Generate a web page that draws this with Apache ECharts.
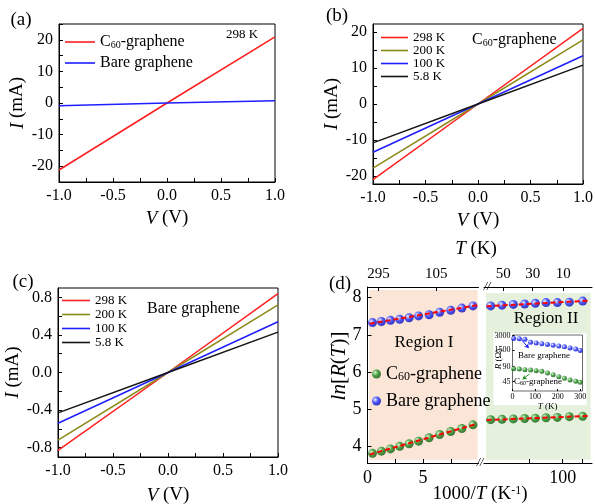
<!DOCTYPE html>
<html><head><meta charset="utf-8">
<script src="https://cdn.jsdelivr.net/npm/echarts@6/dist/echarts.min.js"></script>
<style>html,body{margin:0;padding:0;background:#fff}#c{width:595px;height:504px}</style>
</head><body><div id="c"></div>
<script>
// ================= DATA =================
// I-V sweeps (V in volts)
const ivVoltage = [-1, 0, 1];
// (a) 298 K, current in mA
const aC60 = [-21.2, 0, 20.9];
const aBare = [-0.9, 0, 0.7];
// (b) C60-graphene, mA
const b298 = [-21, 0, 21];
const b200 = [-17.8, 0, 17.8];
const b100 = [-13.4, 0, 13.4];
const b5_8 = [-10.8, 0, 10.8];
// (c) Bare graphene, mA
const c298 = [-0.83, 0, 0.84];
const c200 = [-0.72, 0, 0.72];
const c100 = [-0.54, 0, 0.54];
const c5_8 = [-0.43, 0, 0.43];
const tempLabels = ['298 K', '200 K', '100 K', '5.8 K'];
// (d) ln[R(T)] vs 1000/T, region I
const dInvT1 = [0.45, 1.25, 2.07, 2.9, 3.75, 4.6, 5.55, 6.5, 7.5, 8.5, 9.5];
const dC60_1 = [3.80, 3.86, 3.92, 3.99, 4.06, 4.13, 4.22, 4.31, 4.39, 4.47, 4.57];
const dBare_1 = [7.33, 7.36, 7.39, 7.42, 7.46, 7.51, 7.54, 7.61, 7.66, 7.72, 7.78];
// region II
const dInvT2 = [46, 54.5, 63, 71.5, 79.5, 87.5, 96, 105, 115];
const dC60_2 = [4.71, 4.72, 4.73, 4.74, 4.75, 4.76, 4.77, 4.79, 4.80];
const dBare_2 = [7.78, 7.80, 7.82, 7.83, 7.85, 7.87, 7.87, 7.88, 7.91];
// linear fits (end points)
const fitX1 = [0.2, 9.9];
const fitC60_1 = [3.77, 4.60];
const fitBare_1 = [7.30, 7.80];
const fitX2 = [43, 119];
const fitC60_2 = [4.70, 4.81];
const fitBare_2 = [7.77, 7.92];
// top T(K) axis of (d)
const topPos1 = [1.0, 6.2];
const topLbl1 = ['295', '105'];
const topPos2 = [55.5, 77.5, 100.4];
const topLbl2 = ['50', '30', '10'];
// inset R(T)
const insetT = [5, 30, 55, 80, 105, 130, 155, 180, 205, 230, 255, 280, 300];
const insetBareR = [2700, 2680, 2620, 2300, 2230, 2150, 2080, 2000, 1920, 1830, 1720, 1600, 1450];
const insetC60R = [84, 83, 81, 80, 78, 76, 71, 66, 60, 55, 50, 46, 43];
// tick values
const ivXTicks = [-1, -0.75, -0.5, -0.25, 0, 0.25, 0.5, 0.75, 1];
const ivXLabels = [-1, -0.5, 0, 0.5, 1];
const aYTicks = [-25, -20, -15, -10, -5, 0, 5, 10, 15, 20, 25];
const aYLabels = [-20, -10, 0, 10, 20];
const bYTicks = [-20, -15, -10, -5, 0, 5, 10, 15, 20];
const bYLabels = [-20, -10, 0, 10, 20];
const cYTicks = [-0.8, -0.6, -0.4, -0.2, 0, 0.2, 0.4, 0.6, 0.8];
const cYLabels = [-0.8, -0.4, 0, 0.4, 0.8];
const dX1Ticks = [0, 2.5, 5, 7.5];
const dX1Labels = [0, 5];
const dX2Ticks = [75, 100, 115];
const dX2Labels = [100];
const dYTicks = [4, 5, 6, 7, 8];
const iXLabels = [0, 100, 200, 300];
const iY1Labels = [1500, 3000];
const iY2Labels = [45, 90];

// ================= STYLE / LAYOUT =================
const FONT = 'Liberation Serif';
const RED = '#ff1e1e', OLIVE = '#8c8a18', BLUE = '#1e1eff', BLACK = '#151515';
const tempColors = [RED, OLIVE, BLUE, BLACK];
const G = {
  a:  {left: 59, top: 24, width: 216, height: 158},
  b:  {left: 373, top: 24, width: 210, height: 160},
  c:  {left: 58, top: 288, width: 220, height: 169},
  d1: {left: 367.5, top: 287, width: 111, height: 176},
  d2: {left: 484, top: 287, width: 108, height: 176},
  i1: {left: 512.5, top: 335, width: 70, height: 22},
  i2: {left: 512.5, top: 357, width: 70, height: 34}
};
function rich(size) {
  const s = Math.round(size * 0.65);
  return {
    n: {fontFamily: FONT, fontSize: size, color: '#000'},
    i: {fontFamily: FONT, fontSize: size, color: '#000', fontStyle: 'italic'},
    s: {fontFamily: FONT, fontSize: s, color: '#000', verticalAlign: 'bottom'},
    p: {fontFamily: FONT, fontSize: s, color: '#000', verticalAlign: 'top'}
  };
}
const zip = (xs, ys) => xs.map((x, i) => [x, ys[i]]);
const f1 = v => v.toFixed(1);
const fi = v => String(v);

function axis(o) {
  return {
    type: 'value', gridIndex: o.g, min: o.min, max: o.max, position: o.pos,
    show: o.show !== false, z: o.z || 0,
    axisLine: {show: o.line !== false, onZero: false, lineStyle: {color: '#000', width: 1}},
    axisTick: {show: !!o.ticks, inside: true, length: o.tl || 4, lineStyle: {color: '#000', width: 1}, customValues: o.ticks},
    axisLabel: {show: !!o.labels, customValues: o.labels, formatter: o.fmt, margin: o.margin || 6,
      fontFamily: FONT, fontSize: o.fs || 16, color: '#000'},
    splitLine: {show: false},
    name: o.name, nameLocation: 'middle', nameGap: o.nameGap,
    nameTextStyle: {fontFamily: FONT, fontSize: o.nfs || 19, color: '#000', rich: rich(o.nfs || 19)}
  };
}

const xAxis = [
  axis({g: 0, min: -1, max: 1, ticks: ivXTicks, labels: ivXLabels, fmt: f1, name: '{i|V} (V)', nameGap: 27}),
  axis({g: 1, min: -1, max: 1, ticks: ivXTicks, labels: ivXLabels, fmt: f1, name: '{i|V} (V)', nameGap: 27}),
  axis({g: 2, min: -1, max: 1, ticks: ivXTicks, labels: ivXLabels, fmt: f1, name: '{i|V} (V)', nameGap: 29}),
  axis({g: 3, min: 0, max: 10, ticks: dX1Ticks, labels: dX1Labels, fmt: fi, fs: 18}),
  axis({g: 3, min: 0, max: 10, pos: 'top', ticks: topPos1, labels: topPos1, fs: 15, margin: 5,
        fmt: v => topLbl1[topPos1.indexOf(v)]}),
  axis({g: 4, min: 41, max: 122, ticks: dX2Ticks, labels: dX2Labels, fmt: fi, fs: 18}),
  axis({g: 4, min: 41, max: 122, pos: 'top', ticks: topPos2, labels: topPos2, fs: 15, margin: 5,
        fmt: v => topLbl2[topPos2.indexOf(v)]}),
  axis({g: 5, min: 0, max: 310, show: false}),
  axis({g: 6, min: 0, max: 310, line: false, ticks: iXLabels, labels: iXLabels, fmt: fi, fs: 8, tl: 2, margin: 2, z: 3,
        name: '{i|T} (K)', nameGap: 11, nfs: 9})
];
const yAxis = [
  axis({g: 0, min: -25, max: 25, ticks: aYTicks, labels: aYLabels, fmt: fi, name: '{i|I} (mA)', nameGap: 32}),
  axis({g: 1, min: -22.2, max: 22.2, ticks: bYTicks, labels: bYLabels, fmt: fi, name: '{i|I} (mA)', nameGap: 26}),
  axis({g: 2, min: -0.9, max: 0.9, ticks: cYTicks, labels: cYLabels, fmt: f1, name: '{i|I} (mA)', nameGap: 33}),
  axis({g: 3, min: 3.54, max: 8.29, ticks: dYTicks, labels: dYTicks, fmt: fi, fs: 18}),
  axis({g: 4, min: 3.54, max: 8.29, show: false}),
  axis({g: 5, min: 770, max: 3070, line: false, ticks: iY1Labels, labels: iY1Labels, fmt: fi, fs: 8, tl: 2, margin: 2, z: 3}),
  axis({g: 6, min: 17, max: 119, line: false, ticks: iY2Labels, labels: iY2Labels, fmt: fi, fs: 8, tl: 2, margin: 2, z: 3})
];

function ivLine(name, xi, data, color) {
  return {type: 'line', name, xAxisIndex: xi, yAxisIndex: xi, data: zip(ivVoltage, data),
    symbol: 'none', showSymbol: false, lineStyle: {width: 1.5, color}, itemStyle: {color}, z: 2};
}
const ball = (light, mid, dark) => ({type: 'radial', x: 0.35, y: 0.35, r: 0.75,
  colorStops: [{offset: 0, color: light}, {offset: 0.45, color: mid}, {offset: 1, color: dark}]});
const blueBall = ball('#eef3ff', '#2233ff', '#0000a8');
const greenBall = ball('#d8f5d8', '#1f8f1f', '#0a4a0a');
function dots(name, xi, yi, xs, ys, color, size, z) {
  return {type: 'scatter', name, xAxisIndex: xi, yAxisIndex: yi, data: zip(xs, ys),
    symbol: 'circle', symbolSize: size, itemStyle: {color}, z: z || 3};
}
function fit(xi, yi, xs, ys) {
  return {type: 'line', name: 'fit', xAxisIndex: xi, yAxisIndex: yi, data: zip(xs, ys), symbol: 'none',
    lineStyle: {color: '#ff0000', width: 2, type: [5, 3]}, z: 5, silent: true};
}
const bSets = [b298, b200, b100, b5_8], cSets = [c298, c200, c100, c5_8];
const series = [
  ivLine('a-C60', 0, aC60, RED),
  ivLine('a-Bare', 0, aBare, BLUE),
  ...bSets.map((d, i) => ivLine('b-' + i, 1, d, tempColors[i])),
  ...cSets.map((d, i) => ivLine('c-' + i, 2, d, tempColors[i])),
  dots('d-C60', 3, 3, dInvT1, dC60_1, greenBall, 9),
  dots('d-Bare', 3, 3, dInvT1, dBare_1, blueBall, 9),
  dots('d-C60', 5, 4, dInvT2, dC60_2, greenBall, 9),
  dots('d-Bare', 5, 4, dInvT2, dBare_2, blueBall, 9),
  fit(3, 3, fitX1, fitC60_1), fit(3, 3, fitX1, fitBare_1),
  fit(5, 4, fitX2, fitC60_2), fit(5, 4, fitX2, fitBare_2),
  Object.assign(dots('i-Bare', 7, 5, insetT, insetBareR, blueBall, 5, 4), {
    markLine: {silent: true, symbol: ['none', 'arrow'], symbolSize: 4, label: {show: false},
      lineStyle: {color: BLUE, width: 1, type: 'solid'}, data: [[{coord: [40, 2560]}, {coord: [72, 1700]}]]}}),
  Object.assign(dots('i-C60', 8, 6, insetT, insetC60R, greenBall, 5, 4), {
    markLine: {silent: true, symbol: ['none', 'arrow'], symbolSize: 4, label: {show: false},
      lineStyle: {color: '#1f8f1f', width: 1, type: 'solid'}, data: [[{coord: [75, 68]}, {coord: [45, 52]}]]}})
];

const disp = {
  'a-C60': '{n|C}{s|60}{n|-graphene}', 'a-Bare': 'Bare graphene',
  'd-C60': '{n|C}{s|60}{n|-graphene}', 'd-Bare': 'Bare graphene'
};
tempLabels.forEach((t, i) => { disp['b-' + i] = t; disp['c-' + i] = t; });
function legend(names, left, top, fs, gap, extra) {
  return Object.assign({data: names, left, top, orient: 'vertical', padding: 0, itemGap: gap,
    selectedMode: false, icon: 'rect', itemWidth: 28, itemHeight: 1.6,
    formatter: n => disp[n],
    textStyle: {fontFamily: FONT, fontSize: fs, color: '#000', rich: rich(fs)}}, extra || {});
}
const legends = [
  legend(['a-C60', 'a-Bare'], 65, 34, 16, 5, {itemWidth: 30}),
  legend(['b-0', 'b-1', 'b-2', 'b-3'], 381, 31, 13, 0, {itemWidth: 27}),
  legend(['c-0', 'c-1', 'c-2', 'c-3'], 62, 294, 13, 1, {itemWidth: 28}),
  legend(['d-C60', 'd-Bare'], 372, 365, 18, 9, {icon: 'circle', itemWidth: 9, itemHeight: 9})
];

function T(id, text, x, y, size, opts) {
  opts = opts || {};
  return {type: 'text', id, x, y, rotation: opts.rot || 0, z: opts.z || 6, silent: true,
    style: {text, fontFamily: FONT, fontSize: size, fill: '#000', align: opts.align || 'center',
      verticalAlign: 'middle', rich: rich(size), fontStyle: opts.italic ? 'italic' : 'normal'}};
}
const texts = [
  T('ta', '(a)', 21, 20, 19), T('tb', '(b)', 337, 16, 19), T('tc', '(c)', 23, 282, 19), T('td', '(d)', 340, 284, 19),
  T('t298', '298 K', 242, 35, 13),
  T('tbC', '{n|C}{s|60}{n|-graphene}', 472, 40, 16, {align: 'left'}),
  T('tcB', 'Bare graphene', 147, 309, 16, {align: 'left'}),
  T('tR1', 'Region I', 424, 343, 17),
  T('tR2', 'Region II', 546, 319, 17),
  T('tTK', '{i|T} (K)', 476, 249, 19),
  T('tInv', '{n|1000/}{i|T}{n| (K}{p|-1}{n|)}', 480, 494, 19),
  T('tLn', '{i|ln}{n|[}{i|R}{n|(}{i|T}{n|)]}', 339, 366, 21, {rot: Math.PI / 2}),
  T('tiB', 'Bare graphene', 544, 356, 9),
  T('tiC', '{n|C}{s|60}{n|-graphene}', 538, 382, 9),
  T('tiR', '{i|R} (Ω)', 499, 359, 9, {rot: Math.PI / 2}),
  T('brk1', '//', 480, 463, 12, {italic: true, z: 7}),
  T('brk2', '//', 487, 287, 12, {italic: true, z: 7})
];

const chart = echarts.init(document.getElementById('c'), null, {renderer: 'canvas'});
chart.setOption({
  animation: false,
  backgroundColor: '#fff',
  grid: [G.a, G.b, G.c, G.d1, G.d2, G.i1, G.i2].map((g, i) => Object.assign({
    show: i < 3, borderColor: '#000', borderWidth: 1, backgroundColor: 'transparent',
    containLabel: false, outerBoundsMode: 'none'}, g)),
  xAxis, yAxis, series, legend: legends,
  graphic: {elements: texts}
});

// shaded regions & inset box, positioned through the chart's own scales
const regionIBox = {x: [0.16, 9.92], y: [3.63, 8.21]};
const regionIIBox = {x: [42.5, 121], y: [3.63, 8.13]};
function boxPx(xi, yi, b) {
  const p0 = chart.convertToPixel({xAxisIndex: xi, yAxisIndex: yi}, [b.x[0], b.y[1]]);
  const p1 = chart.convertToPixel({xAxisIndex: xi, yAxisIndex: yi}, [b.x[1], b.y[0]]);
  return {x: p0[0], y: p0[1], width: p1[0] - p0[0], height: p1[1] - p0[1]};
}
const r1 = boxPx(3, 3, regionIBox), r2 = boxPx(5, 4, regionIIBox);
const fTop = chart.convertToPixel({xAxisIndex: 7, yAxisIndex: 5}, [0, 3070]);
const fBot = chart.convertToPixel({xAxisIndex: 8, yAxisIndex: 6}, [310, 17]);
chart.setOption({graphic: {elements: [
  {type: 'rect', id: 'shade1', z: -1, silent: true, shape: r1, style: {fill: '#fae5d6'}},
  {type: 'rect', id: 'shade2', z: -1, silent: true, shape: r2, style: {fill: '#e5f1dd'}},
  {type: 'rect', id: 'insetBg', z: 1, silent: true,
   shape: {x: fTop[0] - 19, y: fTop[1] - 2, width: fBot[0] - fTop[0] + 23, height: fBot[1] - fTop[1] + 16}, style: {fill: '#fff'}},
  {type: 'rect', id: 'insetFrame', z: 3, silent: true,
   shape: {x: fTop[0], y: fTop[1], width: fBot[0] - fTop[0], height: fBot[1] - fTop[1]},
   style: {fill: 'none', stroke: '#444', lineWidth: 0.8}}
]}});
</script></body></html>
